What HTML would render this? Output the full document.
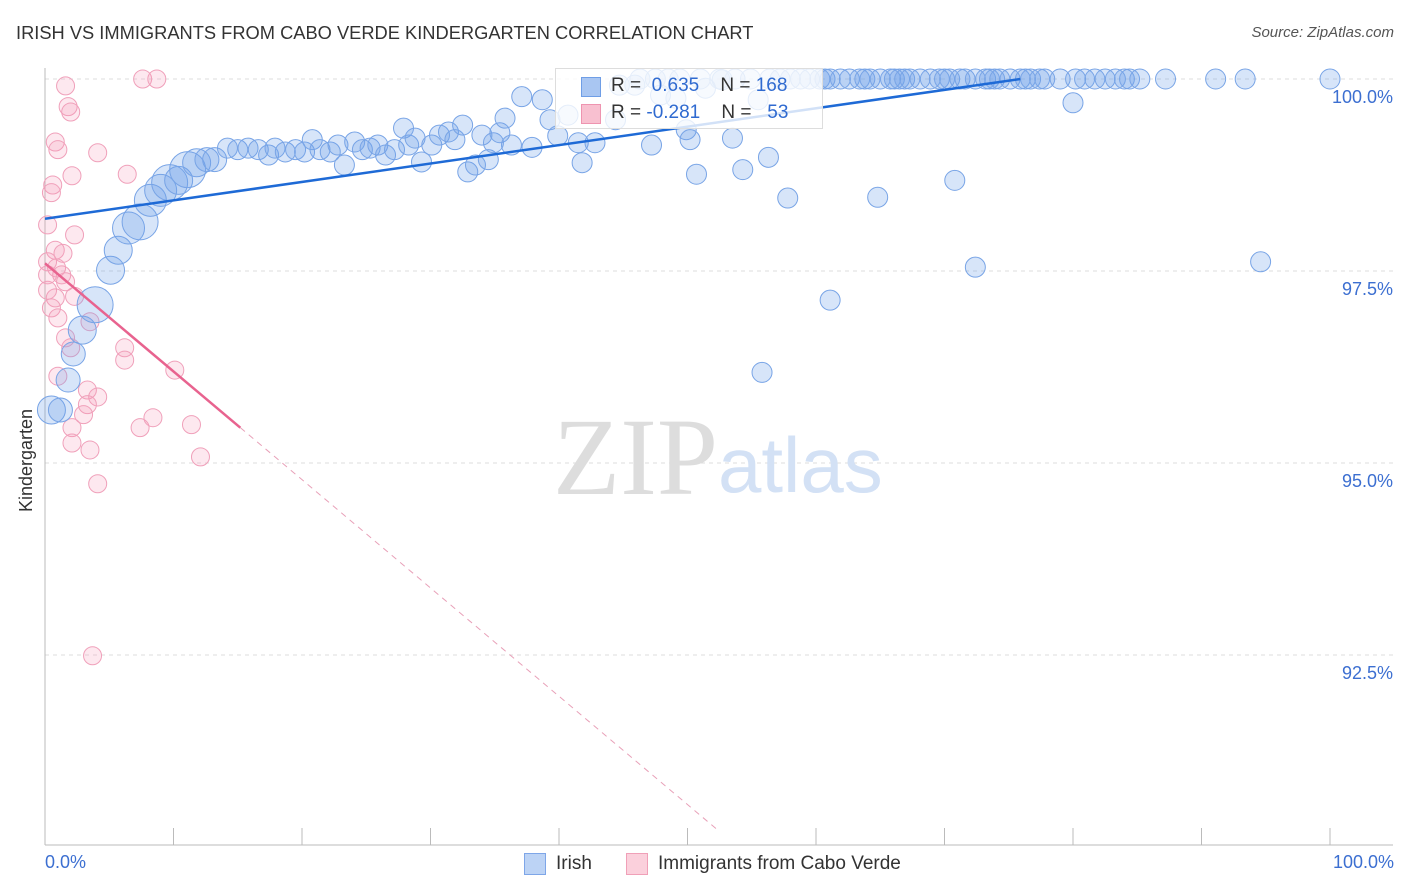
<!DOCTYPE html>
<html><head><meta charset="utf-8"><style>
body{margin:0;background:#fff;font-family:"Liberation Sans",sans-serif}
#wrap{position:relative;width:1406px;height:892px;overflow:hidden}
.t{position:absolute;white-space:nowrap}
</style></head><body>
<div id="wrap">
<div class="t" style="left:16px;top:22px;font-size:18.3px;color:#333">IRISH VS IMMIGRANTS FROM CABO VERDE KINDERGARTEN CORRELATION CHART</div>
<div class="t" style="right:12px;top:24px;font-size:15px;color:#555;font-style:italic">Source: ZipAtlas.com</div>
<svg id="svg" width="1406" height="892" style="position:absolute;left:0;top:0"></svg>
</div>
<script>
const yTicks=[100,97.5,95,92.5];
const yTickLabels=["100.0%","97.5%","95.0%","92.5%"];
const xTicks=[0,10,20,30,40,50,60,70,80,90,100];
const blueX=[0.5,1.2,1.8,2.2,2.9,3.9,5.1,5.7,6.5,7.4,8.2,9.0,9.7,10.4,11.1,11.8,12.6,13.2,
14.2,15.0,15.8,16.6,17.4,17.9,18.7,19.5,20.2,20.8,21.4,22.2,22.8,23.3,24.1,24.7,25.3,25.9,26.5,27.2,27.9,28.3,28.8,29.3,30.1,30.7,31.4,31.9,32.5,32.9,33.5,34.0,34.5,34.9,35.4,35.8,36.3,37.1,37.9,38.7,39.3,39.9,40.7,41.5,41.8,42.8,44.4,44.7,45.9,47.2,47.9,49.1,49.9,50.2,50.7,51.4,52.7,53.5,54.3,55.5,56.3,57.8,61.1,55.8,64.8,70.8,72.4,80.0,94.6,
46.3,47.5,48.5,49.4,51.0,52.5,53.7,54.9,56.4,57.2,58.0,58.8,59.5,60.3,60.7,61.1,61.9,62.6,63.4,63.8,64.2,65.0,65.8,66.1,66.5,66.9,67.3,68.1,68.9,69.6,70.0,70.4,71.2,71.6,72.4,73.2,73.5,73.9,74.3,75.1,75.9,76.3,76.7,77.4,77.8,79.0,80.2,80.9,81.7,82.5,83.3,84.0,84.4,85.2,87.2,91.1,93.4,100];
const blueY=[95.69,95.69,96.08,96.42,96.73,97.06,97.51,97.77,98.06,98.14,98.42,98.55,98.65,98.68,98.82,98.91,98.95,98.95,
99.10,99.08,99.10,99.08,99.01,99.10,99.05,99.08,99.05,99.21,99.08,99.05,99.14,98.88,99.18,99.08,99.10,99.14,99.01,99.08,99.36,99.14,99.23,98.92,99.14,99.27,99.31,99.21,99.40,98.79,98.88,99.27,98.95,99.17,99.30,99.49,99.14,99.77,99.11,99.73,99.47,99.26,99.53,99.17,98.91,99.17,99.47,99.92,99.92,99.14,99.79,99.75,99.34,99.21,98.76,99.88,99.99,99.23,98.82,99.73,98.98,98.45,97.12,96.18,98.46,98.68,97.55,99.69,97.62,
100,100,100,100,100,100,100,100,100,100,100,100,100,100,100,100,100,100,100,100,100,100,100,100,100,100,100,100,100,100,100,100,100,100,100,100,100,100,100,100,100,100,100,100,100,100,100,100,100,100,100,100,100,100,100,100,100,100];
const blueR=[14,12,12,12,14,18,14,14,16,18,16,16,18,14,18,14,12,12];
const pinkX=[1.6,1.8,2.0,0.8,1.0,4.1,6.4,2.1,0.6,0.5,7.6,8.7,0.2,2.3,0.8,1.4,0.2,0.9,1.3,1.6,0.2,0.8,2.3,0.5,1.0,3.5,1.6,6.2,6.2,2.0,1.0,10.1,3.3,4.1,3.3,3.0,7.4,8.4,11.4,2.1,2.1,3.5,12.1,4.1,3.7,0.2];
const pinkY=[99.91,99.64,99.57,99.18,99.08,99.04,98.76,98.74,98.62,98.52,100,100,98.10,97.97,97.77,97.73,97.62,97.54,97.45,97.36,97.25,97.15,97.17,97.02,96.89,96.84,96.63,96.50,96.34,96.50,96.13,96.21,95.95,95.86,95.76,95.63,95.46,95.59,95.50,95.46,95.26,95.17,95.08,94.73,92.49,97.45];
const blueTrend=[[0,98.18],[75.9,100]];
const pinkTrend=[[0,97.60],[15.2,95.46]];
const pinkDash=[[15.2,95.46],[52.5,90.2]];

const NS="http://www.w3.org/2000/svg";
const svg=document.getElementById('svg');
const X=v=>45+v*12.85;
const Y=v=>79+(100-v)*76.8;
function el(tag,a,parent){const e=document.createElementNS(NS,tag);for(const k in a)e.setAttribute(k,a[k]);(parent||svg).appendChild(e);return e;}
yTicks.forEach((t,i)=>{
 const g=el('line',{x1:45,x2:1393,y1:Y(t),y2:Y(t),stroke:'#ddd','stroke-dasharray':'4,4'});
 
 
 const tx=el('text',{x:1393,y:Y(t)+24,'text-anchor':'end','font-size':18,fill:'#3c6fd1','font-family':'Liberation Sans'});
 tx.textContent=yTickLabels[i];
 
 
});
const ax=el('line',{x1:45,x2:45,y1:68,y2:845,stroke:'#bbb'});


const bx=el('line',{x1:45,x2:1393,y1:845,y2:845,stroke:'#bbb'});


xTicks.forEach(t=>{
 const l=el('line',{x1:X(t),x2:X(t),y1:828,y2:845,stroke:'#bbb'});
 
 
});
const wm=el('text',{x:553,y:494,'font-size':110,fill:'#ddd','font-family':'Liberation Serif'});wm.textContent='ZIP';


const wm2=el('text',{x:718,y:492,'font-size':78,fill:'#d3e1f5','font-family':'Liberation Sans'});wm2.textContent='atlas';


pinkX.forEach((x,i)=>{
 const c=el('circle',{cx:X(x),cy:Y(pinkY[i]),r:9,fill:'rgba(244,150,180,0.22)',stroke:'#f0a0ba','stroke-width':1});
 
 
});
blueX.forEach((x,i)=>{
 const c=el('circle',{cx:X(x),cy:Y(blueY[i]),r:blueR[i]||10,fill:'rgba(110,160,235,0.28)',stroke:'#78a4e6','stroke-width':1});
 
 
});
const bl=el('line',{x1:X(blueTrend[0][0]),y1:Y(blueTrend[0][1]),x2:X(blueTrend[1][0]),y2:Y(blueTrend[1][1]),stroke:'#1e6ad6','stroke-width':2.5});


const pl=el('line',{x1:X(pinkTrend[0][0]),y1:Y(pinkTrend[0][1]),x2:X(pinkTrend[1][0]),y2:Y(pinkTrend[1][1]),stroke:'#e8638f','stroke-width':2.5});


const pd=el('line',{x1:X(pinkDash[0][0]),y1:Y(pinkDash[0][1]),x2:X(pinkDash[1][0]),y2:Y(pinkDash[1][1]),stroke:'#e8a0b8','stroke-width':1,'stroke-dasharray':'6,5'});


</script>
<div class="t" style="left:555px;top:68px;width:266px;height:59px;background:rgba(255,255,255,0.8);border:1px solid #ddd">
 <div class="t" style="left:25px;top:8px;width:18px;height:18px;background:#a9c6f2;border:1px solid #6f9ee6"></div>
 <div class="t" style="left:25px;top:35px;width:18px;height:18px;background:#f8c0d0;border:1px solid #ee94b0"></div>
 <div class="t" style="left:55px;top:6px;font-size:19px;color:#333">R = <span style="color:#2f6ad0">&nbsp;0.635</span>&nbsp;&nbsp;&nbsp; N = <span style="color:#2f6ad0">168</span></div>
 <div class="t" style="left:55px;top:33px;font-size:19px;color:#333">R = <span style="color:#2f6ad0">-0.281</span>&nbsp;&nbsp;&nbsp; N = <span style="color:#2f6ad0">&nbsp;&nbsp;53</span></div>
</div>
<div class="t" style="left:16px;top:512px;font-size:18px;color:#333;transform:rotate(-90deg);transform-origin:0 0">Kindergarten</div>
<div class="t" style="left:45px;top:852px;font-size:18px;color:#3c6fd1">0.0%</div>
<div class="t" style="right:12px;top:852px;font-size:18px;color:#3c6fd1">100.0%</div>
<div class="t" style="left:524px;top:853px;width:20px;height:20px;background:#bcd3f5;border:1px solid #7ea6e8"></div>
<div class="t" style="left:556px;top:853px;font-size:19px;color:#333">Irish</div>
<div class="t" style="left:626px;top:853px;width:20px;height:20px;background:#fbd0dc;border:1px solid #f0a0b8"></div>
<div class="t" style="left:658px;top:853px;font-size:19px;color:#333">Immigrants from Cabo Verde</div>
</body></html>
